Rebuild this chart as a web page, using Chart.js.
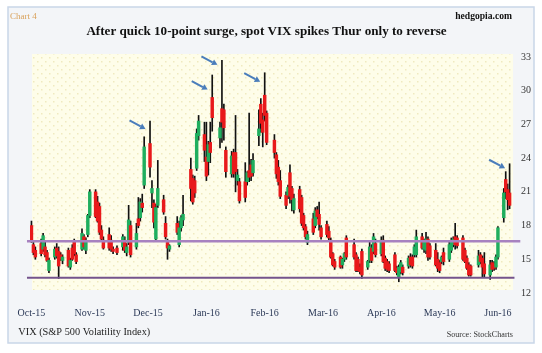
<!DOCTYPE html>
<html><head><meta charset="utf-8">
<script src="https://cdn.jsdelivr.net/npm/chart.js@4.4.1/dist/chart.umd.min.js"></script>
<style>html,body{margin:0;padding:0;background:#fff}#wrap{width:542px;height:353px;position:relative}canvas{display:block}</style>
</head><body><div id="wrap"><canvas id="c" width="542" height="353"></canvas></div>
<script>
// ---- data (VIX daily candles) ----
const dates = [
'2015-10-14','2015-10-15','2015-10-16','2015-10-19','2015-10-20','2015-10-21','2015-10-22','2015-10-23','2015-10-26','2015-10-27','2015-10-28','2015-10-29','2015-10-30',
'2015-11-02','2015-11-03','2015-11-04','2015-11-05','2015-11-06','2015-11-09','2015-11-10','2015-11-11','2015-11-12','2015-11-13','2015-11-16','2015-11-17','2015-11-18','2015-11-19','2015-11-20','2015-11-23','2015-11-24','2015-11-25','2015-11-27','2015-11-30',
'2015-12-01','2015-12-02','2015-12-03','2015-12-04','2015-12-07','2015-12-08','2015-12-09','2015-12-10','2015-12-11','2015-12-14','2015-12-15','2015-12-16','2015-12-17','2015-12-18','2015-12-21','2015-12-22','2015-12-23','2015-12-24','2015-12-28','2015-12-29','2015-12-30','2015-12-31',
'2016-01-04','2016-01-05','2016-01-06','2016-01-07','2016-01-08','2016-01-11','2016-01-12','2016-01-13','2016-01-14','2016-01-15','2016-01-19','2016-01-20','2016-01-21','2016-01-22','2016-01-25','2016-01-26','2016-01-27','2016-01-28','2016-01-29',
'2016-02-01','2016-02-02','2016-02-03','2016-02-04','2016-02-05','2016-02-08','2016-02-09','2016-02-10','2016-02-11','2016-02-12','2016-02-16','2016-02-17','2016-02-18','2016-02-19','2016-02-22','2016-02-23','2016-02-24','2016-02-25','2016-02-26','2016-02-29',
'2016-03-01','2016-03-02','2016-03-03','2016-03-04','2016-03-07','2016-03-08','2016-03-09','2016-03-10','2016-03-11','2016-03-14','2016-03-15','2016-03-16','2016-03-17','2016-03-18','2016-03-21','2016-03-22','2016-03-23','2016-03-24','2016-03-28','2016-03-29','2016-03-30','2016-03-31',
'2016-04-01','2016-04-04','2016-04-05','2016-04-06','2016-04-07','2016-04-08','2016-04-11','2016-04-12','2016-04-13','2016-04-14','2016-04-15','2016-04-18','2016-04-19','2016-04-20','2016-04-21','2016-04-22','2016-04-25','2016-04-26','2016-04-27','2016-04-28','2016-04-29',
'2016-05-02','2016-05-03','2016-05-04','2016-05-05','2016-05-06','2016-05-09','2016-05-10','2016-05-11','2016-05-12','2016-05-13','2016-05-16','2016-05-17','2016-05-18','2016-05-19','2016-05-20','2016-05-23','2016-05-24','2016-05-25','2016-05-26','2016-05-27','2016-05-31',
'2016-06-01','2016-06-02','2016-06-03','2016-06-06','2016-06-07','2016-06-08','2016-06-09','2016-06-10','2016-06-13','2016-06-14','2016-06-15','2016-06-16'
];
const open = [
18.0,16.3,15.8,16.4,15.9,16.1,15.6,14.0,15.2,16.0,15.7,15.4,14.9,
15.8,14.3,16.0,16.6,15.4,15.9,17.0,15.8,17.2,18.9,21.0,20.1,19.7,17.6,16.7,17.2,16.7,15.9,16.0,16.1,
16.7,15.6,16.5,18.0,16.1,18.6,18.7,20.0,21.6,25.3,20.9,20.0,16.8,19.8,20.3,18.2,16.5,15.9,18.2,16.3,17.8,18.5,
23.0,22.2,22.0,23.1,26.0,26.1,24.1,23.7,25.4,29.4,25.8,28.4,28.3,24.7,22.6,24.5,24.5,22.0,21.9,
21.9,21.9,22.9,23.4,22.7,26.0,28.8,27.4,29.6,28.0,25.6,24.3,23.2,22.0,20.7,20.7,22.7,21.3,19.4,21.2,
20.5,18.9,17.9,16.5,18.6,18.0,19.4,19.0,17.8,18.1,17.5,16.7,15.5,14.8,15.2,14.5,15.0,16.9,16.3,15.4,15.0,14.3,
15.7,14.3,14.9,16.0,15.7,16.4,15.5,16.7,15.1,14.8,14.6,15.4,14.2,13.4,13.9,14.3,14.4,15.2,15.2,15.4,15.4,
17.0,15.9,15.8,16.8,16.2,15.8,15.0,14.7,14.8,15.6,15.0,15.8,16.3,17.0,16.9,16.9,15.8,15.1,14.5,14.4,14.5,
15.4,15.1,14.6,13.6,14.7,14.6,14.3,15.2,18.7,22.1,21.2,20.9
];
const high = [
18.4,16.5,16.1,16.8,17.3,16.6,15.8,15.1,16.1,16.4,16.1,15.6,15.4,
16.0,15.1,16.3,16.8,15.6,17.7,17.2,16.9,19.0,21.2,21.2,20.6,20.0,18.0,17.0,17.8,17.1,16.1,16.2,17.2,
17.0,16.4,19.8,18.4,18.2,20.5,20.4,20.8,25.9,27.3,22.0,20.3,19.9,23.8,20.7,18.8,16.8,16.3,18.8,18.4,18.9,20.7,
24.0,22.5,22.4,26.6,27.8,27.2,27.2,25.5,27.2,31.4,27.2,32.7,28.8,25.0,24.6,24.8,27.8,23.0,22.2,
23.6,22.8,28.0,23.9,24.4,28.3,29.3,28.0,31.6,28.2,26.1,24.5,23.8,22.9,21.0,21.6,23.4,21.5,20.8,21.5,
20.7,19.1,18.1,17.5,19.1,19.6,19.7,20.1,18.0,18.4,17.9,16.9,15.6,15.0,15.3,15.1,15.6,17.1,16.8,15.6,15.2,14.6,
15.9,14.9,16.6,16.3,17.3,16.8,17.0,17.1,15.3,15.0,14.8,15.6,14.4,14.5,14.9,14.5,15.3,15.5,15.4,16.3,17.6,
17.3,16.8,17.4,17.0,16.4,16.4,15.6,14.9,15.3,16.0,16.6,16.9,17.0,18.2,17.1,17.1,16.0,15.3,14.7,14.5,15.8,
15.6,15.3,15.6,14.9,14.9,14.8,15.4,17.9,21.3,22.8,21.7,23.5
];
const low = [
16.5,15.4,15.0,15.3,15.7,15.2,14.8,13.8,15.0,15.1,13.3,14.9,14.6,
14.3,14.1,14.9,15.3,14.6,15.8,15.9,15.5,17.0,18.7,18.7,18.3,17.2,16.6,15.9,15.8,15.7,15.5,15.4,15.8,
15.6,15.3,16.3,15.2,15.9,17.8,18.4,19.2,21.3,22.3,19.6,17.8,16.6,19.6,19.0,16.8,15.0,15.7,17.2,16.1,17.5,18.0,
20.2,19.9,20.5,22.9,25.6,23.7,22.0,22.5,23.6,26.4,24.9,25.4,25.6,22.3,22.3,22.3,21.0,21.6,20.0,
20.1,21.6,21.9,22.0,22.4,25.1,26.3,25.0,27.3,25.2,24.0,22.2,21.6,20.4,19.5,20.4,20.0,19.3,19.1,19.2,
18.0,17.6,16.8,16.3,17.2,17.8,18.6,17.6,16.8,17.0,16.6,15.1,14.4,14.1,14.2,14.2,14.8,15.0,15.0,13.9,13.9,13.7,
13.3,14.1,14.7,14.7,15.5,15.2,15.3,14.7,14.0,13.9,13.8,13.9,13.6,13.0,13.7,13.6,14.2,14.3,14.2,15.2,15.2,
15.9,15.6,15.5,14.9,15.0,14.4,13.9,13.8,14.6,14.5,14.8,15.6,16.1,15.9,16.0,14.9,14.7,14.1,13.5,13.5,14.3,
14.6,13.4,13.4,13.2,13.9,14.0,14.1,15.0,18.3,20.4,19.4,19.5
];
const close = [
16.7,15.6,15.2,15.5,17.1,15.4,14.9,14.9,15.9,15.3,14.4,15.0,15.2,
14.4,14.9,15.0,15.5,14.8,17.3,16.1,16.6,18.9,21.0,18.8,18.4,17.4,16.8,16.0,16.0,15.9,15.7,15.6,17.0,
15.8,16.1,18.5,15.4,17.3,18.0,20.1,19.6,25.0,23.2,21.3,18.3,19.6,21.3,19.2,17.0,16.0,16.2,17.4,17.8,18.7,19.0,
21.3,20.1,20.9,26.2,27.3,24.7,22.4,25.2,24.5,27.6,26.7,27.2,26.7,22.8,24.2,22.6,22.8,22.5,20.2,
20.5,22.7,22.3,22.4,23.8,26.6,27.1,26.3,27.8,25.4,24.5,22.6,21.9,20.6,19.8,21.4,20.6,20.3,20.4,19.5,
18.2,17.8,17.0,17.2,17.4,19.3,18.8,18.1,17.0,17.2,16.9,15.2,14.5,14.3,14.3,15.0,15.5,15.2,15.2,14.0,14.0,13.9,
13.6,14.8,16.1,14.9,17.0,15.4,16.7,14.8,14.2,14.1,14.0,14.0,13.8,14.3,14.7,13.8,15.1,14.5,14.4,16.1,17.0,
16.0,16.6,16.8,15.2,15.2,14.5,14.2,14.0,15.2,14.8,16.3,16.6,16.8,16.3,16.2,15.0,14.8,14.2,13.6,13.6,15.3,
14.8,14.3,13.7,14.5,14.1,14.2,15.2,17.8,20.9,21.0,20.3,19.8
];
const levels = [16.6, 13.35];                 // resistance / support lines
const yTicks = [12, 15, 18, 21, 24, 27, 30, 33];
const xTickDates = ['2015-10-14','2015-11-13','2015-12-13','2016-01-12','2016-02-11','2016-03-12','2016-04-11','2016-05-11','2016-06-10'];
const xTickLabels = ['Oct-15','Nov-15','Dec-15','Jan-16','Feb-16','Mar-16','Apr-16','May-16','Jun-16'];
const arrowDates = ['2015-12-14','2016-01-15','2016-01-20','2016-02-11','2016-06-16'];
const arrowTips  = [26.6, 30.1, 32.3, 30.8, 23.1];

// ---- helpers ----
const BASE = Date.parse(dates[0]);
const dayOf = s => (Date.parse(s) - BASE) / 86400000;
const SERIF = "'Liberation Serif','Times New Roman',serif";
const GREEN = '#1fae5e', RED = '#e8191b';

const wickData = dates.map((d, i) => ({x: dayOf(d), y: [low[i], high[i]]}));
const bodyData = dates.map((d, i) => ({x: dayOf(d), y: [open[i], close[i]]}));
const bodyColors = dates.map((d, i) => close[i] >= open[i] ? GREEN : RED);

let pattern = null;
function getPattern(ctx) {
  if (pattern) return pattern;
  const t = document.createElement('canvas'); t.width = 8; t.height = 8;
  const c = t.getContext('2d');
  c.fillStyle = '#fefde9'; c.fillRect(0, 0, 8, 8);
  c.fillStyle = '#efeabf';
  c.fillRect(1, 1, 1.5, 1.5); c.fillRect(5, 5, 1.5, 1.5);
  pattern = ctx.createPattern(t, 'repeat');
  return pattern;
}

const decor = {
  id: 'decor',
  beforeDraw(chart) {
    const ctx = chart.ctx, a = chart.chartArea;
    ctx.save();
    ctx.fillStyle = '#ffffff'; ctx.fillRect(0, 0, chart.width, chart.height);
    ctx.fillStyle = '#f3f5f8'; ctx.fillRect(8, 7, 526, 336);
    ctx.strokeStyle = '#c9d6e8'; ctx.lineWidth = 1.5; ctx.strokeRect(8, 7, 526, 336);
    ctx.fillStyle = getPattern(ctx);
    ctx.fillRect(a.left + 2, a.top - 3, a.right - a.left - 2, a.bottom - a.top);
    ctx.restore();
  },
  afterDatasetsDraw(chart) {
    const ctx = chart.ctx, xs = chart.scales.x, ys = chart.scales.y;
    ctx.save();
    ctx.strokeStyle = '#4a7dbb'; ctx.fillStyle = '#4a7dbb'; ctx.lineWidth = 2;
    arrowDates.forEach((d, i) => {
      const tx = xs.getPixelForValue(dayOf(d)) - 4.5, ty = ys.getPixelForValue(arrowTips[i]);
      const dx = 16, dy = 8.5, len = Math.hypot(dx, dy), ux = dx / len, uy = dy / len;
      const hl = 5.5, hw = 3.2;
      ctx.beginPath(); ctx.moveTo(tx - dx, ty - dy); ctx.lineTo(tx - ux * hl, ty - uy * hl); ctx.stroke();
      ctx.beginPath(); ctx.moveTo(tx, ty);
      ctx.lineTo(tx - ux * hl - uy * hw, ty - uy * hl + ux * hw);
      ctx.lineTo(tx - ux * hl + uy * hw, ty - uy * hl - ux * hw);
      ctx.closePath(); ctx.fill();
    });
    ctx.restore();
  },
  afterDraw(chart) {
    const ctx = chart.ctx;
    ctx.save();
    ctx.textBaseline = 'alphabetic';
    ctx.fillStyle = '#d9a25c'; ctx.font = '9px ' + SERIF; ctx.textAlign = 'left';
    ctx.fillText('Chart 4', 10, 18.5);
    ctx.fillStyle = '#111'; ctx.font = 'bold 9.6px ' + SERIF; ctx.textAlign = 'right';
    ctx.fillText('hedgopia.com', 512, 18.5);
    ctx.font = 'bold 13.1px ' + SERIF; ctx.textAlign = 'center';
    ctx.fillText('After quick 10-point surge, spot VIX spikes Thur only to reverse', 266.5, 34.5);
    ctx.fillStyle = '#222'; ctx.font = '10.3px ' + SERIF; ctx.textAlign = 'left';
    ctx.fillText('VIX (S&P 500 Volatility Index)', 18.3, 335);
    ctx.fillStyle = '#333'; ctx.font = '8.1px ' + SERIF; ctx.textAlign = 'right';
    ctx.fillText('Source: StockCharts', 513, 337);
    ctx.restore();
  }
};

new Chart(document.getElementById('c'), {
  type: 'bar',
  data: {
    datasets: [
      {label: 'Resistance', type: 'line', data: [{x: -2.3, y: levels[0]}, {x: 251.5, y: levels[0]}],
       borderColor: '#a782c0', borderWidth: 2.5, pointRadius: 0, clip: false, order: 0},
      {label: 'Support', type: 'line', data: [{x: -2.3, y: levels[1]}, {x: 248.5, y: levels[1]}],
       borderColor: '#74538c', borderWidth: 2, pointRadius: 0, clip: false, order: 0},
      {label: 'Body', data: bodyData, backgroundColor: bodyColors, barThickness: 2.8,
       grouped: false, order: 1, borderSkipped: false},
      {label: 'Range', data: wickData, backgroundColor: '#111', barThickness: 1,
       grouped: false, order: 2}
    ]
  },
  options: {
    responsive: false, animation: false, devicePixelRatio: 1,
    layout: {padding: {left: 30, right: 0, top: 57, bottom: 0}},
    plugins: {legend: {display: false}, tooltip: {enabled: false}, title: {display: false}},
    scales: {
      x: {
        type: 'linear', min: -0.75, max: 247.75, offset: false,
        grid: {display: false}, border: {display: false},
        afterBuildTicks: s => { s.ticks = xTickDates.map(d => ({value: dayOf(d)})); },
        afterFit: s => { s.height = 60; },
        ticks: {autoSkip: false, maxRotation: 0, padding: 6, color: '#2c3a58',
                font: {family: SERIF, size: 10},
                callback: (v, i) => xTickLabels[i]}
      },
      y: {
        type: 'linear', position: 'right', min: 12, max: 33,
        grid: {display: false, drawTicks: false}, border: {display: false},
        afterBuildTicks: s => { s.ticks = yTicks.map(v => ({value: v})); },
        afterFit: s => { s.width = 29; },
        ticks: {padding: 8, color: '#333', font: {family: SERIF, size: 10}}
      }
    }
  },
  plugins: [decor]
});
</script></body></html>
